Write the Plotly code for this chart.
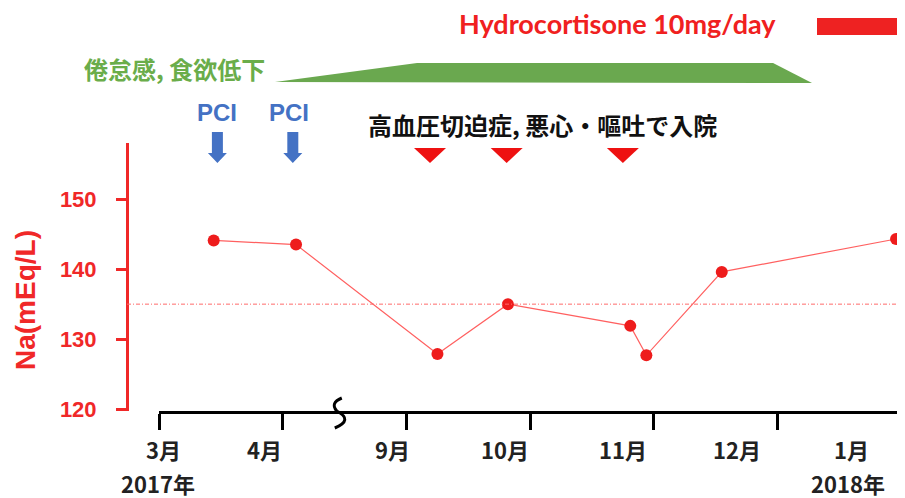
import plotly.graph_objects as go

# ---------------- data ----------------
# x positions are in "axis month units": 0=3月, 1=4月, (break), 2=9月, 3=10月, 4=11月, 5=12月, 6=end
month_ticks = [0, 1, 2, 3, 4, 5, 6]
month_labels = ["3月", "4月", "9月", "10月", "11月", "12月", "1月"]
month_label_pos = [0.03, 0.85, 1.89, 2.80, 3.75, 4.67, 5.60]
year_labels = ["2017年", "2018年"]
year_label_px = [157.5, 847.5]

na_x = [0.44, 1.106, 2.25, 2.82, 3.81, 3.94, 4.55, 5.96]
na_y = [144.1, 143.5, 127.9, 135.0, 131.9, 127.7, 139.6, 144.3]
na_lower_limit = 135

y_ticks = [120, 130, 140, 150]

pci_x = [0.47, 1.08]
pci_label_x = [0.464, 1.05]
admission_x = [2.19, 2.81, 3.75]
break_x = 1.46

# fatigue / anorexia band (x in month units, y in screen pixels of the layout)
fatigue_x = [0.936, 2.085, 4.965, 5.28]
fatigue_py = [82, 63, 63, 83]

RED = "#f02828"
BLUE = "#4472c4"
GREEN = "#6aa84f"

# page body has an 8px margin: lay out in page pixels and convert
OX, OY, W, H = 8, 8, 897, 490


def fx(X):
    return (X - OX) / W


def fy(Y):
    return 1 - (Y - OY) / H


fig = go.Figure()

fig.add_trace(go.Scatter(
    x=na_x, y=na_y, mode="lines+markers",
    line=dict(color="#ff6060", width=1.2),
    marker=dict(color="#ee1c1c", size=12),
    hoverinfo="skip", cliponaxis=False,
))

shapes = []
# reference lower limit line
shapes.append(dict(type="line", xref="paper", yref="y", x0=fx(127), x1=1.0,
                   y0=na_lower_limit, y1=na_lower_limit,
                   line=dict(color="#ff6a6a", width=1, dash="4px,2px,1px,2px")))
# fatigue band
fy_ = [fy(v) for v in fatigue_py]
path = "M {},{} L {},{} L {},{} L {},{} Z".format(
    fatigue_x[0], fy_[0], fatigue_x[1], fy_[1],
    fatigue_x[2], fy_[2], fatigue_x[3], fy_[3])
shapes.append(dict(type="path", xref="x", yref="paper", path=path,
                   fillcolor=GREEN, line=dict(width=0)))
# hydrocortisone bar
shapes.append(dict(type="rect", xref="paper", yref="paper",
                   x0=fx(817), x1=1.0, y0=fy(35), y1=fy(18),
                   fillcolor="#ee2222", line=dict(width=0)))
# PCI arrows
for px in pci_x:
    shapes.append(dict(type="path", xref="x", yref="paper",
                       xsizemode="pixel", ysizemode="pixel",
                       xanchor=px, yanchor=fy(163),
                       path="M -9.5,10 L 0,0 L 9.5,10 L 5.5,10 L 5.5,31 L -5.5,31 L -5.5,10 Z",
                       fillcolor=BLUE, line=dict(width=0)))
# admission triangles
for ax_ in admission_x:
    shapes.append(dict(type="path", xref="x", yref="paper",
                       xsizemode="pixel", ysizemode="pixel",
                       xanchor=ax_, yanchor=fy(163),
                       path="M -16,15 L 16,15 L 0,0 Z",
                       fillcolor="#ee1111", line=dict(width=0)))
# axis break squiggle
shapes.append(dict(type="path", xref="x", yref="paper",
                   xsizemode="pixel", ysizemode="pixel",
                   xanchor=break_x, yanchor=fy(411),
                   path="M 2,13 Q -10,8 -3,0 Q 14,-9 -5,-17",
                   line=dict(color="black", width=3)))


def ann(x, y, text, font, xref="paper", **kw):
    d = dict(x=x, y=y, xref=xref, yref="paper", text=text, showarrow=False,
             xanchor="center", yanchor="middle", font=font)
    d.update(kw)
    return d


annotations = []
for lab, pos in zip(month_labels, month_label_pos):
    annotations.append(ann(pos, fy(449), lab,
                           dict(family="Noto Sans CJK JP", size=22, color="#222", weight="bold"), xref="x"))
for lab, px in zip(year_labels, year_label_px):
    annotations.append(ann(fx(px), fy(483), lab,
                           dict(family="Noto Sans CJK JP", size=22, color="#222", weight="bold")))
for pos in pci_label_x:
    annotations.append(ann(pos, fy(112), "PCI",
                           dict(family="Liberation Sans", size=24, color=BLUE, weight="bold"), xref="x"))
annotations.append(ann(fx(542), fy(125), "高血圧切迫症, 悪心・嘔吐で入院",
                       dict(family="Noto Sans CJK JP", size=24, color="#111", weight="bold")))
annotations.append(ann(fx(174.5), fy(69), "倦怠感, 食欲低下",
                       dict(family="Noto Sans CJK JP", size=24, color="#6aad4a", weight="bold")))
annotations.append(ann(fx(617), fy(24), "Hydrocortisone 10mg/day",
                       dict(family="Lato", size=27, color="#f02020", weight="bold")))
annotations.append(ann(fx(25), fy(300), "Na(mEq/L)",
                       dict(family="Liberation Sans", size=28, color=RED, weight="bold"), textangle=-90))

fig.update_layout(
    width=W, height=H,
    margin=dict(l=0, r=0, t=0, b=0),
    paper_bgcolor="white", plot_bgcolor="white",
    showlegend=False,
    shapes=shapes, annotations=annotations,
    xaxis=dict(domain=[fx(159.3), fx(901)], range=[0, 6],
               tickvals=month_ticks, showticklabels=False,
               ticks="outside", ticklen=16, tickwidth=3, tickcolor="black",
               showline=True, linecolor="black", linewidth=3,
               showgrid=False, zeroline=False, anchor="y", automargin=False),
    yaxis=dict(domain=[fy(411), fy(143)], range=[119.75, 158],
               anchor="free", position=fx(127), side="left",
               tickvals=y_ticks, ticks="outside", ticklen=10, tickwidth=3,
               tickcolor=RED, showline=True, linecolor=RED, linewidth=3,
               tickfont=dict(family="Liberation Sans", size=22, color=RED, weight="bold"),
               ticklabelstandoff=15,
               showgrid=False, zeroline=False, automargin=False),
)

fig.write_html("out.html")
